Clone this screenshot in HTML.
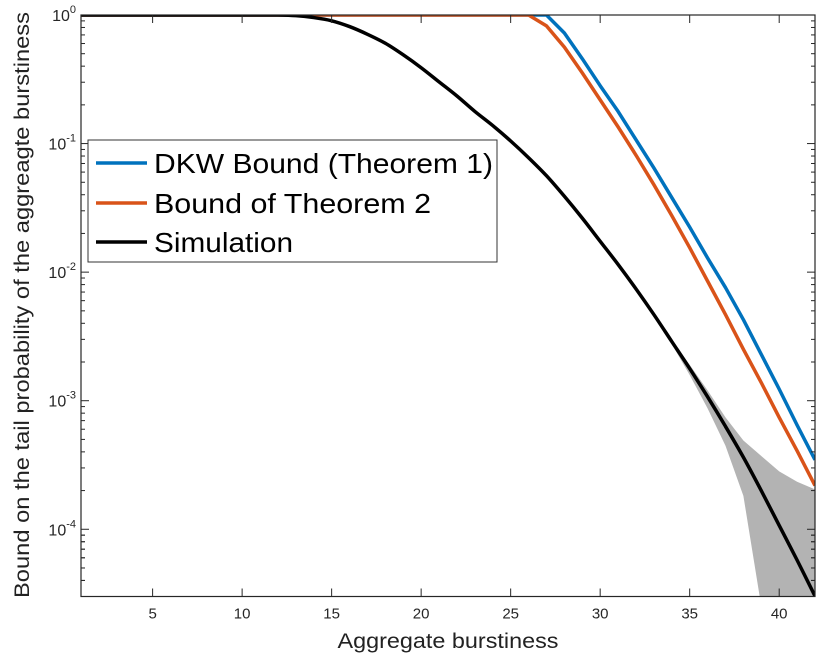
<!DOCTYPE html>
<html><head><meta charset="utf-8"><style>
html,body{margin:0;padding:0;background:#fff;overflow:hidden;width:832px;height:666px;}
svg{display:block;font-family:"Liberation Sans",Arial,sans-serif;}
</style></head><body>
<svg id="chart" width="832" height="666" viewBox="0 0 832 666">
<defs><clipPath id="plotclip"><rect x="81" y="15" width="734" height="581.5"/></clipPath></defs>
<rect x="81" y="15" width="734" height="581.5" fill="#fff"/>
<g id="band" clip-path="url(#plotclip)"></g>
<g id="lines" clip-path="url(#plotclip)"></g>
<g id="axes"></g>
<g id="legend">
<rect x="88" y="140" width="409" height="122" fill="#fff" stroke="#333" stroke-width="1"/>
<g><line x1="96" y1="163" x2="147" y2="163" stroke="#0072BD" stroke-width="3.5"/><text x="154" y="173" font-size="28" textLength="339" lengthAdjust="spacingAndGlyphs">DKW Bound (Theorem 1)</text></g>
<g><line x1="96" y1="203" x2="147" y2="203" stroke="#D95319" stroke-width="3.5"/><text x="154" y="213" font-size="28" textLength="277" lengthAdjust="spacingAndGlyphs">Bound of Theorem 2</text></g>
<g><line x1="96" y1="242" x2="147" y2="242" stroke="#000" stroke-width="3.5"/><text x="154" y="252" font-size="28" textLength="139" lengthAdjust="spacingAndGlyphs">Simulation</text></g>
</g>
<text x="448" y="648" font-size="21" text-anchor="middle" fill="#222" textLength="221" lengthAdjust="spacingAndGlyphs">Aggregate burstiness</text>
<text transform="translate(29,305) rotate(-90)" font-size="21" text-anchor="middle" fill="#222" textLength="586" lengthAdjust="spacingAndGlyphs">Bound on the tail probability of the aggreagte burstiness</text>
</svg>
<script>
// log10 values
const xs = [1,2,3,4,5,6,7,8,9,10,11,12,13,14,15,16,17,18,19,20,21,22,23,24,25,26,27,28,29,30,31,32,33,34,35,36,37,38,39,40,41,42];
const simLog = [0,0,0,0,0,0,0,0,0,0,0,0,-0.005,-0.02,-0.045,-0.09,-0.15,-0.22,-0.31,-0.41,-0.52,-0.63,-0.75,-0.86,-0.98,-1.11,-1.25,-1.41,-1.58,-1.76,-1.94,-2.13,-2.33,-2.54,-2.75,-2.97,-3.20,-3.44,-3.70,-3.97,-4.24,-4.52];
const dkwX = [1,27,28,29,30,31,32,33,34,35,36,37,38,39,40,41,42];
const dkwLog = [0,0,-0.14,-0.34,-0.55,-0.75,-0.97,-1.19,-1.42,-1.65,-1.89,-2.12,-2.37,-2.64,-2.91,-3.19,-3.46];
const thm2X = [1,26,27,28,29,30,31,32,33,34,35,36,37,38,39,40,41,42];
const thm2Log = [0,0,-0.085,-0.25,-0.45,-0.66,-0.87,-1.09,-1.32,-1.56,-1.81,-2.07,-2.33,-2.60,-2.86,-3.13,-3.39,-3.66];
const bandX = [34,35,36,37,38,39,40,41,42];
const bandUpperLog = [-2.53,-2.72,-2.92,-3.13,-3.31,-3.43,-3.55,-3.63,-3.69];
const bandLowerLog = [-2.56,-2.80,-3.06,-3.35,-3.74,-4.6,-6,-6,-6];
const xTicks = [5,10,15,20,25,30,35,40];
const yTickExps = [0,-1,-2,-3,-4];

const NS="http://www.w3.org/2000/svg";
const L=81,R=815,T=15,B=596.5;
const xMin=1,xMax=42,yMaxLog=0,yMinLog=Math.log10(3e-5);
const sx=x=>L+(x-xMin)/(xMax-xMin)*(R-L);
const sy=l=>T+(yMaxLog-l)/(yMaxLog-yMinLog)*(B-T);
function mk(tag,attrs,parent){const e=document.createElementNS(NS,tag);for(const k in attrs)e.setAttribute(k,attrs[k]);parent.appendChild(e);return e;}
function smoothPath(P){
  let d='M'+P[0][0]+','+P[0][1];
  for(let i=0;i<P.length-1;i++){
    const p0=P[Math.max(0,i-1)],p1=P[i],p2=P[i+1],p3=P[Math.min(P.length-1,i+2)];
    const c1=[p1[0]+(p2[0]-p0[0])/6,p1[1]+(p2[1]-p0[1])/6];
    const c2=[p2[0]-(p3[0]-p1[0])/6,p2[1]-(p3[1]-p1[1])/6];
    d+='C'+c1[0]+','+c1[1]+' '+c2[0]+','+c2[1]+' '+p2[0]+','+p2[1];
  }
  return d;
}

const band=document.getElementById('band');
let d='';
bandX.forEach((x,i)=>{d+=(i?'L':'M')+sx(x)+','+sy(bandUpperLog[i]);});
for(let i=bandX.length-1;i>=0;i--)d+='L'+sx(bandX[i])+','+sy(bandLowerLog[i]);
const bp=mk('path',{d:d+'Z',fill:'#b3b3b3',stroke:'none'},band);



const lines=document.getElementById('lines');
function line(X,Y,color,name,smooth){
  const P=X.map((x,i)=>[sx(x),sy(Y[i])]);
  const p=smooth?smoothPath(P):P.map((q,i)=>(i?'L':'M')+q[0]+','+q[1]).join('');
  const e=mk('path',{d:p,fill:'none',stroke:color,'stroke-width':3.5,'stroke-linejoin':'round'},lines);
  
  
}
line(dkwX,dkwLog,'#0072BD','dkw-bound-line',false);
line(thm2X,thm2Log,'#D95319','theorem2-bound-line',false);
line(xs,simLog,'#000','simulation-line',true);

const ax=document.getElementById('axes');
const frame=mk('rect',{x:L,y:T,width:R-L,height:B-T,fill:'none',stroke:'#262626','stroke-width':1.2},ax);


xTicks.forEach(v=>{
  const x=sx(v);
  mk('line',{x1:x,y1:B,x2:x,y2:B-8,stroke:'#262626'},ax);
  mk('line',{x1:x,y1:T,x2:x,y2:T+8,stroke:'#262626'},ax);
  const t=mk('text',{x:x,y:B+22,'font-size':15,'text-anchor':'middle',fill:'#262626'},ax);
  t.textContent=v;
  
  
});
yTickExps.forEach(e=>{
  const y=sy(e);
  mk('line',{x1:L,y1:y,x2:L+8,y2:y,stroke:'#262626'},ax);
  mk('line',{x1:R,y1:y,x2:R-8,y2:y,stroke:'#262626'},ax);
  for(let m=2;m<=9;m++){
    const ly=sy(e-1+Math.log10(m));
    if(ly>B||ly<T)continue;
    mk('line',{x1:L,y1:ly,x2:L+4,y2:ly,stroke:'#262626'},ax);
    mk('line',{x1:R,y1:ly,x2:R-4,y2:ly,stroke:'#262626'},ax);
  }
  const t=mk('text',{x:L-5,y:y+6,'font-size':16,'text-anchor':'end',fill:'#262626'},ax);
  
  
  const b=mk('tspan',{},t);b.textContent='10';
  const s=mk('tspan',{dy:-8,'font-size':11},t);s.textContent=String(e);
});
for(let m=2;m<=9;m++){const ly=sy(-5+Math.log10(m));if(ly<=B){mk('line',{x1:L,y1:ly,x2:L+4,y2:ly,stroke:'#262626'},ax);mk('line',{x1:R,y1:ly,x2:R-4,y2:ly,stroke:'#262626'},ax);}}
</script>
</body></html>
